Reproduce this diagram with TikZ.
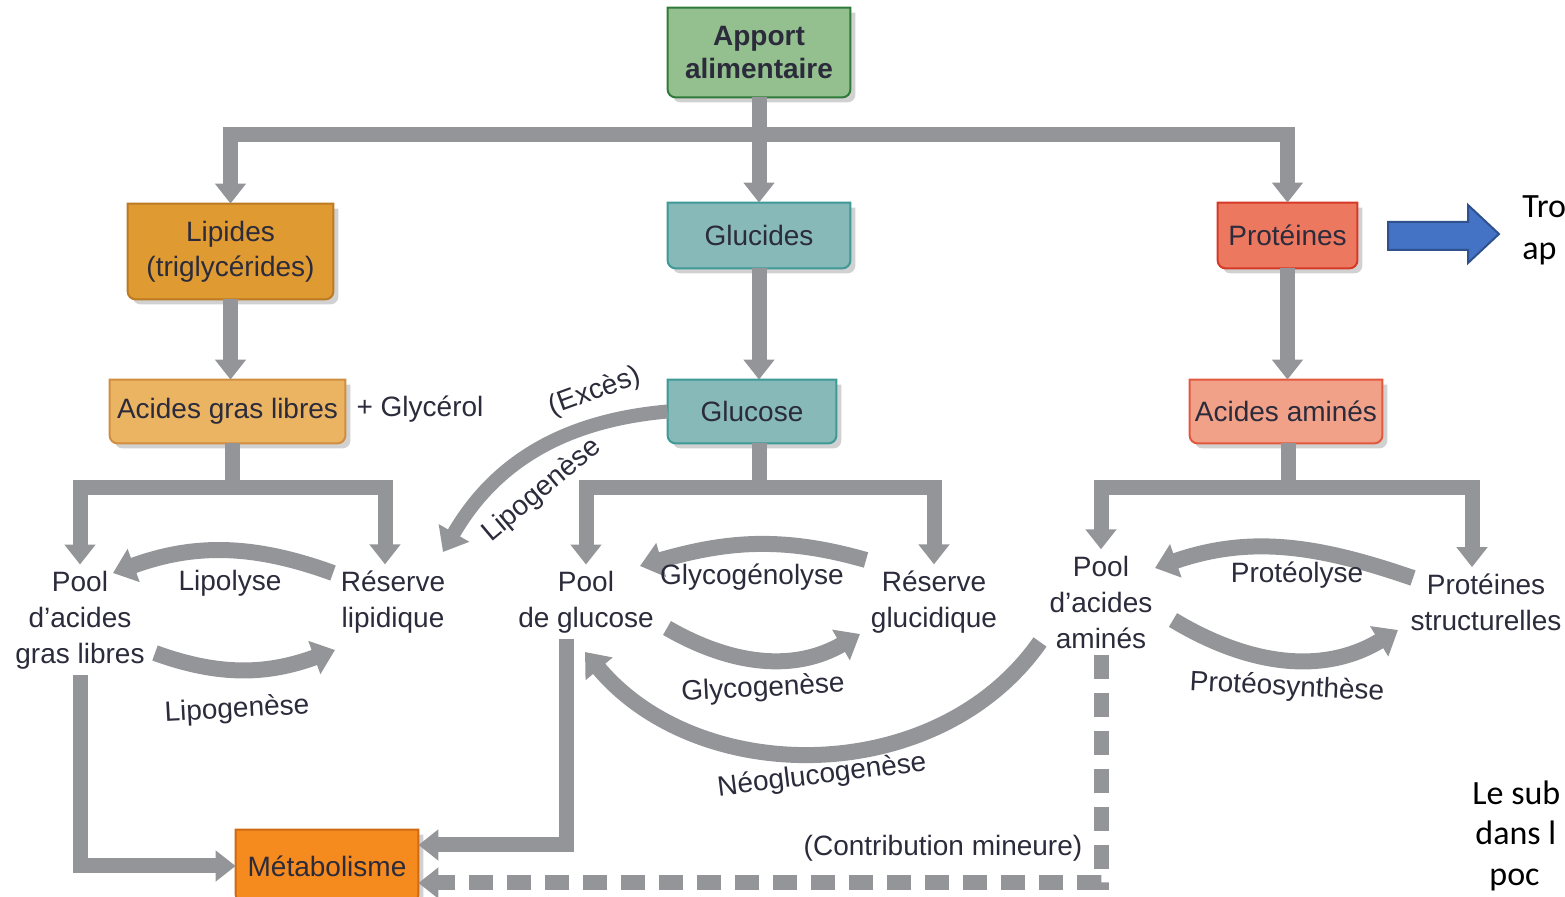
\documentclass[tikz,border=0pt]{standalone}
\usepackage{fontspec}
\setmainfont{Liberation Sans}
\newfontfamily\notefont{Carlito}
\usetikzlibrary{arrows.meta, backgrounds}
\definecolor{pipeGray}{HTML}{939598}
\definecolor{txtDark}{HTML}{2B2B3B}
\definecolor{aptFill}{HTML}{93C08E}
\definecolor{aptLine}{HTML}{2F7A3A}
\definecolor{lipFill}{HTML}{E09A32}
\definecolor{lipLine}{HTML}{BC7A22}
\definecolor{gluFill}{HTML}{86B9B7}
\definecolor{gluLine}{HTML}{3D9A97}
\definecolor{proFill}{HTML}{EC7860}
\definecolor{proLine}{HTML}{D63A26}
\definecolor{aglFill}{HTML}{EAB463}
\definecolor{aglLine}{HTML}{D08E3E}
\definecolor{aaFill}{HTML}{F2A189}
\definecolor{aaLine}{HTML}{E2583E}
\definecolor{metFill}{HTML}{F58A1F}
\definecolor{metLine}{HTML}{CF6A12}
\definecolor{noteBlue}{HTML}{4472C4}
\definecolor{noteEdge}{HTML}{2F528F}
% outline of a box: square top, rounded bottom
\newcommand{\boxpath}[2]{([shift={#2}]#1.north west) -- ([shift={#2},yshift=4pt]#1.south west) arc[start angle=180, end angle=270, radius=4pt] -- ([shift={#2},xshift=-4pt]#1.south east) arc[start angle=270, end angle=360, radius=4pt] -- ([shift={#2}]#1.north east) -- cycle}

\begin{document}
\begin{tikzpicture}[x=0.5pt, y=0.5pt,
    box/.style={inner sep=0pt, align=center, text=txtDark, font=\fontsize{14}{17.5}\selectfont},
    lbl/.style={inner sep=3pt, align=center, text=txtDark, font=\fontsize{14}{18}\selectfont},
    tilt/.style={lbl, inner sep=0pt},
    pipe/.style={draw=pipeGray, line width=7.5pt},
    flow/.style={pipe, -{Triangle[width=15pt, length=10pt]}},
    cyc/.style={draw=pipeGray, line width=8pt, -{Triangle[width=17pt, length=11pt]}}]
  \useasboundingbox (0,0) rectangle (1565,-897);

  % coloured boxes
  \node[box, minimum width=91pt, minimum height=44.5pt, font=\fontsize{14}{16.5}\selectfont\bfseries] (apport) at (759,-52.5) {Apport\\alimentaire};
  \node[box, minimum width=102.5pt, minimum height=47.5pt] (lipides) at (230.5,-251.5) {Lipides\\(triglycérides)};
  \node[box, minimum width=91pt, minimum height=32.5pt] (glucides) at (759,-235.5) {Glucides};
  \node[box, minimum width=69.5pt, minimum height=32.5pt] (proteines) at (1287.5,-235.5) {Protéines};
  \node[box, minimum width=117.5pt, minimum height=31.5pt] (agl) at (227.5,-411.5) {Acides gras libres};
  \node[box, minimum width=84pt, minimum height=31.5pt] (glucose) at (752,-411.5) {Glucose};
  \node[box, minimum width=96pt, minimum height=31.5pt] (aa) at (1286,-411.5) {Acides aminés};
  \node[box, minimum width=91pt, minimum height=36pt] (metab) at (327,-866) {Métabolisme};

  \begin{scope}[on background layer]
    \foreach \nm/\fc/\lc in {apport/aptFill/aptLine, lipides/lipFill/lipLine,
        glucides/gluFill/gluLine, proteines/proFill/proLine, agl/aglFill/aglLine,
        glucose/gluFill/gluLine, aa/aaFill/aaLine, metab/metFill/metLine} {
      \fill[black!18] \boxpath{\nm}{(5,-5)};
      \filldraw[fill=\fc, draw=\lc, line width=1pt] \boxpath{\nm}{(0,0)};
    }
  \end{scope}

  % pools and stores
  \node[lbl] (poolag) at (80,-620) {Pool\\d’acides\\gras libres};
  \node[lbl] (reslip) at (393,-602) {Réserve\\lipidique};
  \node[lbl] (poolglu) at (586,-602) {Pool\\de glucose};
  \node[lbl] (resglu) at (934,-602) {Réserve\\glucidique};
  \node[lbl] (poolaa) at (1101,-602) {Pool\\d’acides\\aminés};
  \node[lbl] (protstr) at (1486,-602) {Protéines\\structurelles};
  \node[lbl] (glycerol) at (420,-409) {+ Glycérol};

  % top tree
  \coordinate (split) at (759,-135);
  \draw[pipe] (apport.south) -- (split);
  \draw[flow] (split) -| (lipides.north);
  \draw[flow] (split) -- (glucides.north);
  \draw[flow] (split) -| (proteines.north);
  \draw[flow] (lipides.south) -- (lipides.south |- agl.north);
  \draw[flow] (glucides.south) -- (glucides.south |- glucose.north);
  \draw[flow] (proteines.south) -- (proteines.south |- aa.north);

  % forks
  \coordinate (forkL) at (232,-488);
  \coordinate (forkG) at (759,-488);
  \coordinate (forkP) at (1288,-488);
  \draw[pipe] (forkL |- agl.south) -- (forkL);
  \draw[flow] (forkL) -| (poolag.north);
  \draw[flow] (forkL) -| ([xshift=-4pt]reslip.north);
  \draw[pipe] (forkG |- glucose.south) -- (forkG);
  \draw[flow] (forkG) -| (poolglu.north);
  \draw[flow] (forkG) -| (resglu.north);
  \draw[pipe] (forkP |- aa.south) -- (forkP);
  \draw[flow] (forkP) -| (poolaa.north);
  \draw[flow] (forkP) -| ([xshift=-7pt]protstr.north);

  % cycles
  \draw[cyc] ([shift={(-60,29)}]reslip.center) to[out=160, in=20] ([shift={(33,47)}]poolag.center);
  \draw[cyc] ([shift={(75,-33)}]poolag.center) to[out=-20, in=200] ([shift={(-58,-48)}]reslip.center);
  \draw[cyc] ([shift={(-68,42)}]resglu.center) to[out=164, in=16] ([shift={(54,36)}]poolglu.center);
  \draw[cyc] ([shift={(81,-26)}]poolglu.center) to[out=-30, in=210] ([shift={(-74,-32)}]resglu.center);
  \draw[cyc] ([shift={(-73,24)}]protstr.center) to[out=161, in=19] ([shift={(54,34)}]poolaa.center);
  \draw[cyc] ([shift={(72,-18)}]poolaa.center) to[out=-31, in=211] ([shift={(-88,-28)}]protstr.center);
  \draw[cyc] ([shift={(-61,-40)}]poolaa.center) to[out=235, in=310] ([shift={(-1,-50)}]poolglu.center);
  \draw[cyc, line width=7pt] (glucose.west) to[out=185, in=60] ([shift={(50,50)}]reslip.center);

  \node[lbl] (tLipolyse) at (230,-583) {Lipolyse};
  \node[tilt, rotate=3] (tLipogen) at (237,-710) {Lipogenèse};
  \node[lbl] (tGlycolys) at (752,-577) {Glycogénolyse};
  \node[tilt, rotate=3] (tGlycogen) at (763,-689) {Glycogenèse};
  \node[tilt, rotate=7] (tNeo) at (822,-776) {Néoglucogenèse};
  \node[lbl] (tProteol) at (1297,-575) {Protéolyse};
  \node[tilt, rotate=-3] (tProteos) at (1287,-688) {Protéosynthèse};
  \node[tilt, rotate=20] (tExces) at (595,-392) {(Excès)};
  \node[tilt, rotate=40] (tLipoEx) at (542,-490) {Lipogenèse};
  \node[lbl] (tContrib) at (943,-848) {(Contribution mineure)};

  % towards metabolism
  \draw[flow] (poolag.south) |- (metab.west);
  \draw[flow] ([xshift=-10pt]poolglu.south) |- ([yshift=10.5pt]metab.east);
  \draw[flow, dash pattern=on 12pt off 7pt] (poolaa.south) |- ([yshift=-8.5pt]metab.east);

  % slide side notes
  \filldraw[fill=noteBlue, draw=noteEdge, line width=1pt] (1388,-222) -- (1468,-222) -- (1468,-205) -- (1499,-234) -- (1468,-263) -- (1468,-250) -- (1388,-250) -- cycle;
  \node[anchor=base west, inner sep=0pt, font=\notefont\fontsize{17}{21}\selectfont] (noteA) at (1522,-218) {Tro};
  \node[anchor=base west, inner sep=0pt, font=\notefont\fontsize{17}{21}\selectfont] (noteB) at (1522,-260) {ap};
  \node[anchor=base west, inner sep=0pt, font=\notefont\fontsize{17}{21}\selectfont] (noteC) at (1472,-805) {Le sub};
  \node[anchor=base west, inner sep=0pt, font=\notefont\fontsize{17}{21}\selectfont] (noteD) at (1475,-845) {dans l};
  \node[anchor=base west, inner sep=0pt, font=\notefont\fontsize{17}{21}\selectfont] (noteE) at (1489,-885) {poc};
\end{tikzpicture}
\end{document}
